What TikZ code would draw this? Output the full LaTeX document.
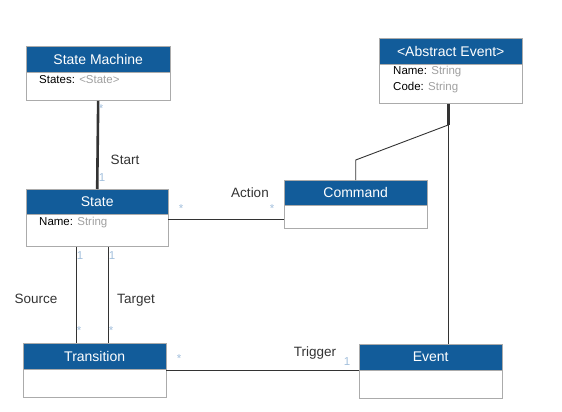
\documentclass[tikz,border=0pt]{standalone}
\usepackage{fontspec}
\setmainfont{Liberation Sans}
\usetikzlibrary{positioning}
\definecolor{umlblue}{HTML}{125C9A}
\definecolor{boxgray}{HTML}{ABABAB}
\definecolor{typegray}{HTML}{A0A0A0}
\definecolor{multblue}{HTML}{A2BFDC}
\definecolor{linegray}{HTML}{333333}
\tikzset{
  classhead/.style={fill=umlblue, draw=boxgray, text=white, inner sep=0pt,
    font=\fontsize{14}{16}\selectfont},
  classbody/.style={draw=boxgray, fill=white, inner sep=0pt},
  attr/.style={anchor=west, inner sep=0pt, font=\fontsize{11.5}{14}\selectfont},
  mult/.style={text=multblue, inner sep=0pt, font=\fontsize{11.5}{13}\selectfont},
  rolelabel/.style={text=linegray, inner sep=0pt, font=\fontsize{13.5}{16}\selectfont},
  assoc/.style={draw=linegray, line width=0.9pt},
  strong/.style={draw=linegray, line width=2.6pt}
}
\newcommand{\attrtype}[1]{\textcolor{typegray}{#1}}
\begin{document}
\begin{tikzpicture}[x=1pt,y=1pt]
\useasboundingbox (0,0) rectangle (562,-412);

% class boxes
\node[classhead, minimum width=144, minimum height=26, anchor=north west] (smhead) at (26,-46) {State Machine};
\node[classbody, minimum width=144, minimum height=28, below=0pt of smhead] (sm) {};
\node[attr] at ([xshift=13,yshift=-7]smhead.south west) {States: \attrtype{<State>}};

\node[classhead, minimum width=142, minimum height=25, anchor=north west] (sthead) at (26,-189) {State};
\node[classbody, minimum width=142, minimum height=32, below=0pt of sthead] (st) {};
\node[attr] at ([xshift=13,yshift=-8]sthead.south west) {Name: \attrtype{String}};

\node[classhead, minimum width=143, minimum height=25, anchor=north west] (cmdhead) at (284,-180) {Command};
\node[classbody, minimum width=143, minimum height=23, below=0pt of cmdhead] (cmd) {};

\node[classhead, minimum width=143, minimum height=26, anchor=north west] (aehead) at (379,-38) {<Abstract Event>};
\node[classbody, minimum width=143, minimum height=39, below=0pt of aehead] (ae) {};
\node[attr] at ([xshift=14,yshift=-7]aehead.south west) {Name: \attrtype{String}};
\node[attr] at ([xshift=14,yshift=-23]aehead.south west) {Code: \attrtype{String}};

\node[classhead, minimum width=143, minimum height=26, anchor=north west] (trhead) at (23,-343) {Transition};
\node[classbody, minimum width=143, minimum height=28, below=0pt of trhead] (tr) {};

\node[classhead, minimum width=143, minimum height=26, anchor=north west] (evhead) at (359,-344) {Event};
\node[classbody, minimum width=143, minimum height=28, below=0pt of evhead] (ev) {};

% associations
\draw[strong] (sm.south) -- (sthead.north);
\node[mult] at (101,-109) {*};
\node[mult] at (102,-178) {1};
\node[rolelabel] at (125,-160) {Start};

\draw[assoc] ([yshift=11]st.east) -- ([yshift=11]st.east -| cmd.west);
\node[mult] at (181,-209) {*};
\node[mult] at (272,-209) {*};
\node[rolelabel] at (250,-193) {Action};

\coordinate (aejoin) at ([xshift=-2,yshift=-21]ae.south);
\coordinate (cmdbend) at ([yshift=20]cmdhead.north);
\draw[strong] ([xshift=-2]ae.south) -- (aejoin);
\draw[assoc] (aejoin) -- (cmdbend) -- (cmdhead.north);
\draw[assoc] (aejoin) -- (aejoin |- evhead.north);

\draw[assoc] ([xshift=-21]st.south) -- ([xshift=-21]st.south |- trhead.north);
\draw[assoc] ([xshift=11]st.south) -- ([xshift=11]st.south |- trhead.north);
\node[mult] at (80,-256) {1};
\node[mult] at (112,-256) {1};
\node[mult] at (79,-331) {*};
\node[mult] at (111,-331) {*};
\node[rolelabel] at (36,-299) {Source};
\node[rolelabel] at (136,-300) {Target};

\draw[assoc] ([yshift=13]tr.east) -- ([yshift=13]tr.east -| ev.west);
\node[mult] at (179,-359) {*};
\node[mult] at (347,-362) {1};
\node[rolelabel] at (315,-353) {Trigger};
\end{tikzpicture}
\end{document}
